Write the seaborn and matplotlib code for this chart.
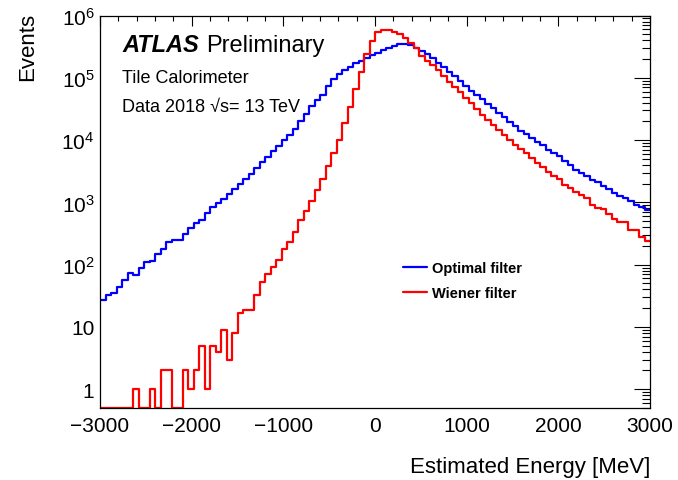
import numpy as np
import pandas as pd
import matplotlib
matplotlib.use("Agg")
import matplotlib.pyplot as plt
import matplotlib.ticker as mticker
import seaborn as sns

# -----------------------------
# Data
# -----------------------------
e_min, e_max, n_bins = -3000, 3000, 100

optimal_filter = [
    27, 33, 35, 44, 56, 74, 67, 87, 110, 114,
    146, 178, 231, 248, 250, 305, 391, 458, 519, 687,
    837, 982, 1125, 1380, 1620, 2000, 2340, 2880, 3550, 4370,
    5370, 6610, 8130, 10000, 12000, 14800, 20000, 26300, 34700, 43600,
    53700, 74100, 94600, 114000, 133000, 151000, 171000, 188000, 210000, 232000,
    251000, 275000, 304000, 327000, 344000, 348000, 335000, 304000, 269000, 238000,
    205000, 175000, 147000, 126000, 107000, 88900, 74000, 62400, 53100, 45300,
    38100, 32500, 27000, 23100, 19400, 16600, 14100, 12500, 10800, 9180,
    8220, 7000, 6190, 5480, 4560, 3940, 3350, 2960, 2690, 2320,
    2100, 1860, 1640, 1420, 1260, 1180, 1040, 920, 840, 750,
]

wiener_filter = [
    0, 0, 0, 0, 0, 0, 1, 0, 0, 1,
    0, 2, 2, 0, 0, 2, 1, 2, 5, 1,
    5, 4, 9, 3, 8, 17, 19, 19, 32, 53,
    72, 92, 117, 176, 233, 337, 512, 740, 1070, 1600,
    2350, 3900, 6200, 10100, 18700, 34600, 66200, 125600, 237700, 388000,
    535000, 582000, 582000, 548000, 502000, 440000, 356000, 296000, 226000, 186000,
    160000, 133000, 108000, 86900, 72300, 58600, 48200, 39100, 31700, 25400,
    21100, 17200, 14600, 12200, 10100, 8410, 7180, 6190, 5150, 4290,
    3700, 3080, 2620, 2400, 1930, 1710, 1470, 1330, 1180, 900,
    820, 770, 640, 550, 490, 480, 360, 355, 280, 240,
]

series_names = ["Optimal filter", "Wiener filter"]
series_colors = ["#0000ff", "#ff0000"]

y_ticks = [1, 10, 1e2, 1e3, 1e4, 1e5, 1e6]
y_tick_labels = ["1", "10", "$10^{2}$", "$10^{3}$", "$10^{4}$", "$10^{5}$", "$10^{6}$"]
y_min, y_max = 0.5, 1e6

# -----------------------------
# Style
# -----------------------------
sns.set_style("white")
plt.rcParams["font.family"] = ["Liberation Sans", "DejaVu Sans"]
plt.rcParams["text.color"] = "black"
plt.rcParams["axes.labelcolor"] = "black"
plt.rcParams["mathtext.fontset"] = "custom"
plt.rcParams["mathtext.rm"] = "Liberation Sans"
plt.rcParams["mathtext.it"] = "Liberation Sans:italic"
plt.rcParams["mathtext.bf"] = "Liberation Sans:bold"

W, H = 678, 481
fig = plt.figure(figsize=(W / 100, H / 100), dpi=100)
ax = fig.add_axes([100 / W, 1 - 409 / H, 550 / W, 392.5 / H])

edges = np.linspace(e_min, e_max, n_bins + 1)
centers = 0.5 * (edges[:-1] + edges[1:])

df = pd.DataFrame({
    "energy": np.concatenate([centers, centers]),
    "events": np.concatenate([optimal_filter, wiener_filter]).astype(float),
    "filter": np.repeat(series_names, n_bins),
})
# empty bins are drawn on the lower frame, as ROOT does
df["events"] = df["events"].clip(lower=y_min)

for name, color in zip(series_names, series_colors):
    sub = df[df["filter"] == name]
    sns.histplot(data=sub, x="energy", weights="events", bins=n_bins,
                 binrange=(e_min, e_max), element="step", fill=False,
                 color=color, linewidth=1.6, label=name, ax=ax)

ax.set_yscale("log")
ax.set_xlim(e_min, e_max)
ax.set_ylim(y_min, y_max)

ax.yaxis.set_major_locator(mticker.FixedLocator(y_ticks))
ax.yaxis.set_major_formatter(mticker.FixedFormatter(y_tick_labels))
ax.yaxis.set_minor_locator(mticker.LogLocator(base=10, subs=np.arange(2, 10), numticks=100))
ax.yaxis.set_minor_formatter(mticker.NullFormatter())
ax.xaxis.set_major_locator(mticker.MultipleLocator(1000))
ax.xaxis.set_minor_locator(mticker.MultipleLocator(200))

for s in ax.spines.values():
    s.set_linewidth(0.9)
    s.set_color("black")

ax.tick_params(axis="both", which="both", direction="in", top=True, right=True,
               width=0.8, colors="black", labelsize=15)
ax.tick_params(axis="x", which="major", length=7.5, pad=6)
ax.tick_params(axis="x", which="minor", length=3.8)
ax.tick_params(axis="y", which="major", length=11.5, pad=4)
ax.tick_params(axis="y", which="minor", length=5.8)

ax.set_xlabel("Estimated Energy [MeV]", fontsize=16, color="black")
ax.xaxis.set_label_coords(1.0, -(473 - 409) / 392.5)
ax.xaxis.label.set_ha("right")
ax.xaxis.label.set_va("baseline")
ax.set_ylabel("Events", fontsize=16, color="black")
ax.yaxis.set_label_coords(-(100 - 33) / 550, (409 - 13) / 392.5)
ax.yaxis.label.set_ha("right")
ax.yaxis.label.set_va("baseline")

# ATLAS label
fig.text(122 / W, 1 - 52 / H, "ATLAS", fontsize=17, fontweight="bold",
         fontstyle="italic", va="baseline")
fig.text(206 / W, 1 - 52 / H, "Preliminary", fontsize=17, va="baseline")
fig.text(122 / W, 1 - 83 / H, "Tile Calorimeter", fontsize=13, va="baseline")
fig.text(122 / W, 1 - 112 / H, "Data 2018 √s= 13 TeV", fontsize=13,
         va="baseline")

ax.legend(loc="upper left", bbox_to_anchor=((403 - 100) / 550, (409 - 262) / 392.5),
          frameon=False, prop={"weight": "bold", "size": 10.5},
          handlelength=1.65, handletextpad=0.35, labelspacing=0.75,
          borderpad=0, borderaxespad=0)

fig.savefig("out.png", dpi=100)
